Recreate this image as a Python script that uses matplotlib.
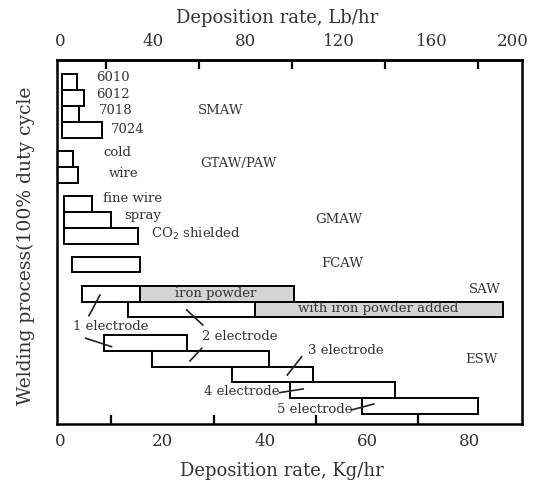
import matplotlib
matplotlib.use('Agg')
import matplotlib.pyplot as plt
from matplotlib.ticker import FixedLocator
import matplotlib.transforms as mtransforms

plt.rcParams['font.family'] = ['DejaVu Serif']
TXT = '#333333'

# ---------------- data (deposition rate, kg/hr) ----------------
smaw_labels = ['6010', '6012', '7018', '7024']
smaw_start = [0.5, 0.5, 0.5, 0.5]
smaw_end = [3.3, 4.8, 3.8, 8.2]

gtaw_labels = ['cold', 'wire']
gtaw_start = [-0.6, -0.6]
gtaw_end = [2.5, 3.5]

gmaw_labels = ['fine wire', 'spray', 'CO$_2$ shielded']
gmaw_start = [0.8, 0.8, 0.8]
gmaw_end = [6.35, 9.9, 15.2]

fcaw_start = [2.3]
fcaw_end = [15.7]

saw_labels = ['1 electrode', '2 electrode']
saw_start = [4.3, 13.25]
saw_plain_end = [15.7, 38.05]      # end of plain part, start of iron powder part
saw_end = [45.7, 86.5]
saw_powder_labels = ['iron powder', 'with iron powder added']

esw_labels = ['1 electrode', '2 electrode', '3 electrode', '4 electrode', '5 electrode']
esw_start = [8.6, 18.05, 33.65, 44.9, 59.0]
esw_end = [24.75, 40.85, 49.4, 65.4, 81.7]

process_names = ['SMAW', 'GTAW/PAW', 'GMAW', 'FCAW', 'SAW', 'ESW']

bottom_ticklabels = [0, 20, 40, 60, 80]
top_ticklabels = [0, 40, 80, 120, 160, 200]
KG_TO_LB = 2.2046

# ---------------- layout ----------------
smaw_rows = [21.38, 20.38, 19.38, 18.38]
gtaw_rows = [16.57, 15.56]
gmaw_rows = [13.76, 12.75, 11.77]
fcaw_rows = [9.97]
saw_rows = [8.13, 7.16]
esw_rows = [5.07, 4.08, 3.10, 2.11, 1.12]
H = 0.98

fig = plt.figure(figsize=(5.33, 4.83), dpi=100)
ax = fig.add_axes([0.1064, 0.1222, 0.8739, 0.7536])
ax.set_xlim(-0.6, 90.3)
ax.set_ylim(0, 22.75)

bar_kw = dict(height=H, edgecolor='black', linewidth=1.4, facecolor='white', zorder=2)

def draw(starts, ends, rows, **kw):
    widths = [e - s for s, e in zip(starts, ends)]
    opts = dict(bar_kw)
    opts.update(kw)
    ax.barh(rows, widths, left=starts, **opts)

draw(smaw_start, smaw_end, smaw_rows)
draw(gtaw_start, gtaw_end, gtaw_rows)
draw(gmaw_start, gmaw_end, gmaw_rows)
draw(fcaw_start, fcaw_end, fcaw_rows)
draw(saw_start, saw_plain_end, saw_rows)
draw(saw_plain_end, saw_end, saw_rows, facecolor='#d4d4d4')
draw(esw_start, esw_end, esw_rows)

fs = 9.5
tk = dict(color=TXT, fontsize=fs, ha='center', va='center', zorder=3)

# SMAW
for lab, pos in zip(smaw_labels, [(10.4, 21.67), (10.4, 20.6), (10.9, 19.58), (13.25, 18.38)]):
    ax.text(pos[0], pos[1], lab, **tk)
ax.text(31.4, 19.6, process_names[0], **tk)
# GTAW
for lab, pos in zip(gtaw_labels, [(11.3, 16.96), (12.5, 15.67)]):
    ax.text(pos[0], pos[1], lab, **tk)
ax.text(34.8, 16.3, process_names[1], **tk)
# GMAW
for lab, pos in zip(gmaw_labels, [(14.15, 14.1), (16.1, 13.0), (26.5, 11.85)]):
    ax.text(pos[0], pos[1], lab, **tk)
ax.text(54.4, 12.75, process_names[2], **tk)
# FCAW
ax.text(55.2, 10.06, process_names[3], **tk)
# SAW
ax.text(82.9, 8.4, process_names[4], **tk)
for lab, pos in zip(saw_powder_labels, [(30.4, 8.13), (62.05, 7.19)]):
    ax.text(pos[0], pos[1], lab, **tk)
for lab, pos in zip(saw_labels, [(10.0, 6.1), (35.1, 5.44)]):
    ax.text(pos[0], pos[1], lab, **tk)
ln = dict(color='#222222', lw=1.2, zorder=3)
ax.plot([7.85, 5.7], [8.06, 6.77], **ln)
ax.plot([24.75, 27.9], [7.13, 6.19], **ln)
# ESW
ax.text(82.3, 4.04, process_names[5], **tk)
esw_text = [(None, None), (None, None), (55.75, 4.62), (35.5, 2.06), (49.8, 0.92)]
for lab, pos in zip(esw_labels[2:], esw_text[2:]):
    ax.text(pos[0], pos[1], lab, **tk)
ax.plot([5.07, 10.1], [5.36, 4.83], **ln)
ax.plot([27.7, 25.4], [4.73, 3.94], **ln)
ax.plot([47.2, 44.4], [4.2, 3.06], **ln)
ax.plot([42.9, 47.5], [1.96, 2.19], **ln)
ax.plot([56.9, 61.3], [0.875, 1.25], **ln)

# ---------------- axes ----------------
for sp in ax.spines.values():
    sp.set_linewidth(1.8)
ax.set_yticks([])
ax.xaxis.set_major_locator(FixedLocator(bottom_ticklabels))
ax.xaxis.set_minor_locator(FixedLocator([10, 20, 30, 40, 50, 60, 70, 80]))
ax.tick_params(axis='x', which='major', length=0, pad=6.5, labelsize=12, labelcolor=TXT)
ax.tick_params(axis='x', which='minor', direction='in', length=6.5, width=1.6)
ax.set_xlabel('Deposition rate, Kg/hr', fontsize=13, color=TXT)
ax.xaxis.set_label_coords(0.4837, -0.105)

top = ax.secondary_xaxis('top', functions=(lambda k: k * KG_TO_LB, lambda l: l / KG_TO_LB))
top.xaxis.set_major_locator(FixedLocator(top_ticklabels[:-1]))
top.xaxis.set_minor_locator(FixedLocator([20, 40, 60, 80, 100, 120, 140, 160, 180]))
top.tick_params(axis='x', which='major', length=0, pad=7, labelsize=12, labelcolor=TXT)
top.tick_params(axis='x', which='minor', direction='in', length=6.5, width=1.6)
top.spines['top'].set_linewidth(1.8)
# last top label sits at the right edge (200 lb is just beyond the frame)
trans = mtransforms.blended_transform_factory(ax.transAxes, ax.transAxes) + \
    mtransforms.ScaledTranslation(0, 7 / 72, fig.dpi_scale_trans)
ax.text(0.98, 1.0, str(top_ticklabels[-1]), transform=trans, ha='center', va='bottom',
        fontsize=12, color=TXT)

fig.text(277 / 533, 1 - 18 / 483, 'Deposition rate, Lb/hr', fontsize=13, color=TXT,
         ha='center', va='center')

ax.set_ylabel('Welding process(100% duty cycle', fontsize=13.5, color=TXT)
ax.yaxis.set_label_coords(-0.047, 0.49)

fig.savefig('out.png', dpi=100)
